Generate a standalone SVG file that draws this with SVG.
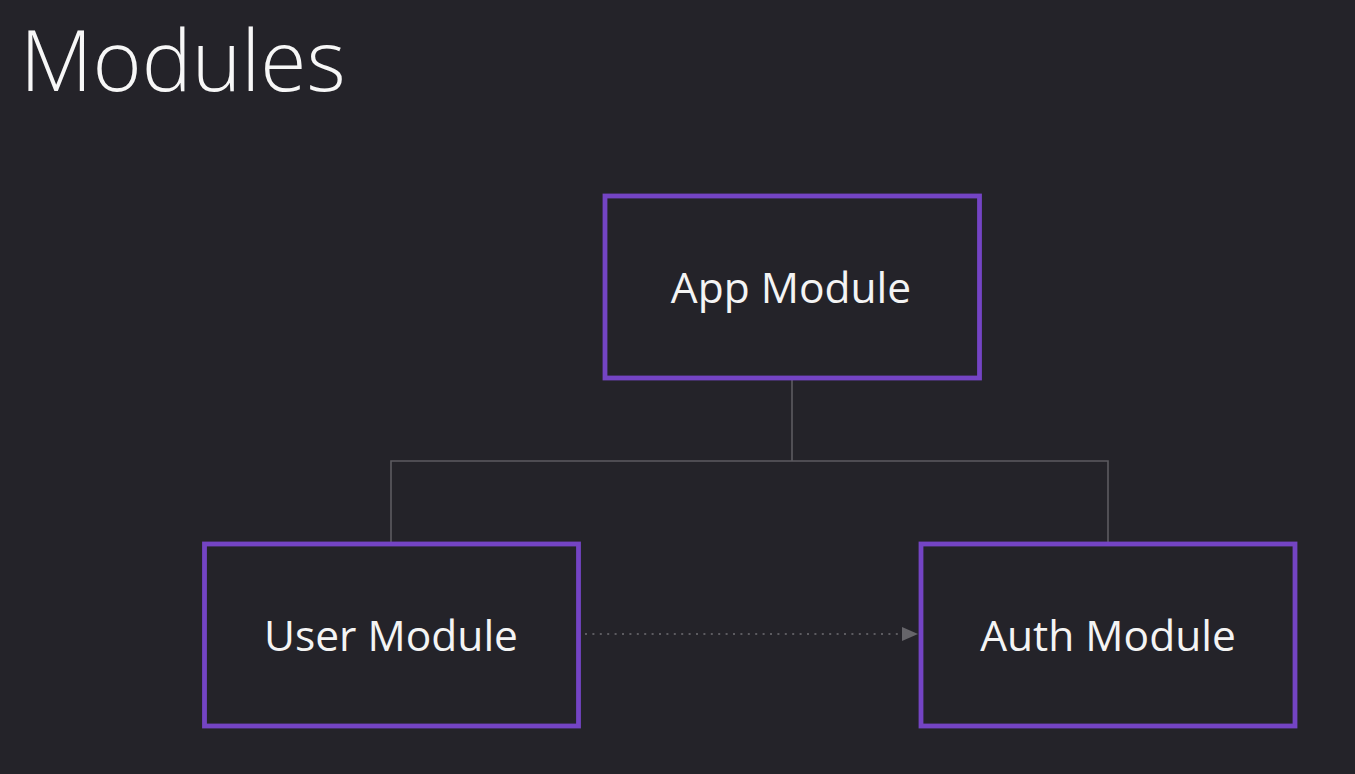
<svg xmlns="http://www.w3.org/2000/svg" width="1355" height="774" viewBox="0 0 1355 774">
<style>
.node{fill:#242329;stroke:#7444c4;stroke-width:4.8}
.lbl{fill:#f4f4f4;font-family:"Open Sans","Noto Sans",sans-serif;font-size:42.5px;text-anchor:middle}
.title{fill:#f7f7f7;font-family:"Open Sans","Noto Sans",sans-serif;font-weight:300;font-size:84px}
.conn{fill:none;stroke:#5c5b60;stroke-width:1.6}
.dot{fill:none;stroke:#5c5b60;stroke-width:2;stroke-dasharray:2 5.4}
</style>
<defs>
<marker id="arr" viewBox="0 0 16 14" refX="16" refY="7" markerWidth="16" markerHeight="14" markerUnits="userSpaceOnUse" orient="auto">
<path d="M0,0 L16,7 L0,14 Z" fill="#66656a"/>
</marker>
</defs>
<rect width="1355" height="774" fill="#242329"/>
<text class="title" x="20" y="91">Modules</text>
<g id="connectors">
<path class="conn" d="M792,379 V461 M391,543 V461 H1108 V543"/>
<path class="dot" d="M585,634 H918" marker-end="url(#arr)"/>
</g>
<g id="app-module">
<rect class="node" x="605" y="196" width="374.5" height="182"/>
<text class="lbl" x="791" y="303">App Module</text>
</g>
<g id="user-module">
<rect class="node" x="204.5" y="544" width="374" height="182"/>
<text class="lbl" x="391" y="651">User Module</text>
</g>
<g id="auth-module">
<rect class="node" x="921" y="544" width="374" height="182"/>
<text class="lbl" x="1108" y="651">Auth Module</text>
</g>
</svg>
